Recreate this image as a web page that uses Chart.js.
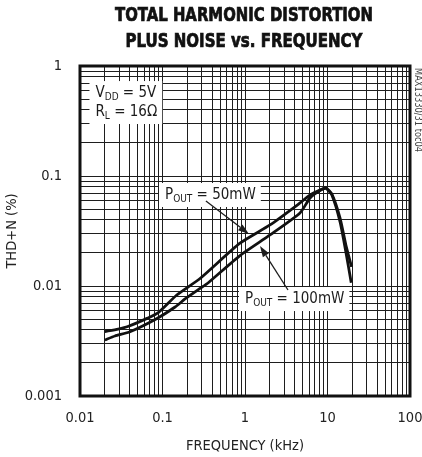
<!DOCTYPE html>
<html><head><meta charset="utf-8">
<script src="https://cdn.jsdelivr.net/npm/chart.js@4/dist/chart.umd.min.js"></script>
<style>html,body{margin:0;padding:0;background:#fff;}canvas{display:block}</style>
</head><body>
<canvas id="c" width="422" height="457"></canvas>
<script>
// ---- data ----
const freq50 = [0.02, 0.029, 0.038, 0.065, 0.088, 0.149, 0.285, 0.869, 2.01, 4.64, 6.14, 8.11, 9.59, 11.3, 14.2, 16.7, 19.6];
const thd50  = [0.00385, 0.00406, 0.00428, 0.00508, 0.00569, 0.00828, 0.0117, 0.0245, 0.0359, 0.0569, 0.0672, 0.0746, 0.0778, 0.0686, 0.0415, 0.0236, 0.0149];
const freq100 = [0.02, 0.0265, 0.0404, 0.0858, 0.142, 0.1875, 0.285, 0.356, 0.869, 2.01, 4.64, 6.14, 8.11, 9.59, 11.3, 14.2, 16.7, 19.4];
const thd100  = [0.00323, 0.00351, 0.00384, 0.00507, 0.00644, 0.00762, 0.0095, 0.01065, 0.0189, 0.0291, 0.0461, 0.0631, 0.0738, 0.0769, 0.0672, 0.0382, 0.0204, 0.0107];
const xTickLabels = ['0.01', '0.1', '1', '10', '100'];
const yTickLabels = ['0.001', '0.01', '0.1', '1'];
const seriesNames = ['P_OUT = 50mW', 'P_OUT = 100mW'];
const titleLines = ['TOTAL HARMONIC DISTORTION', 'PLUS NOISE vs. FREQUENCY'];
const xTitle = 'FREQUENCY (kHz)';
const yTitle = 'THD+N (%)';
const sideNote = 'MAX13330/31 toc04';

const COND = "'DejaVu Sans Condensed', 'Liberation Sans Narrow', sans-serif";
const INK = '#1c1c1c';

function logTicks(labels) {
  const vals = labels.map(parseFloat);
  const lo = Math.round(Math.log10(Math.min(...vals)));
  const hi = Math.round(Math.log10(Math.max(...vals)));
  const t = [];
  for (let e = lo; e < hi; e++) for (let m = 1; m < 10; m++) t.push({ value: +(m * Math.pow(10, e)).toPrecision(6) });
  t.push({ value: Math.pow(10, hi) });
  return t;
}
function labelFor(labels, v) {
  const l = labels.find(s => Math.abs(Math.log10(parseFloat(s)) - Math.log10(v)) < 1e-6);
  return l === undefined ? '' : l;
}

const toXY = (xs, ys) => xs.map((x, i) => ({ x, y: ys[i] }));

// annotation definitions (anchored in data units)
const notes = [
  { lines: [ { parts: [['V'], ['DD', 1], [' = 5V']], f: 0.0154, v: 0.522 },
             { parts: [['R'], ['L', 1], [' = 16Ω']], f: 0.0154, v: 0.351 } ] },
  { lines: [ { parts: [['P'], ['OUT', 1], [' = 50mW']], f: 0.1072, v: 0.0618 } ],
    arrow: { from: [0.336, 0.0593], to: [1.117, 0.0297] } },
  { lines: [ { parts: [['P'], ['OUT', 1], [' = 100mW']], f: 1.0, v: 0.0070 } ],
    arrow: { from: [3.32, 0.0092], to: [1.52, 0.0231] } }
];

function richWidth(ctx, parts) {
  let w = 0;
  for (const [t, sub] of parts) { ctx.font = (sub ? '10px ' : '15px ') + COND; w += ctx.measureText(t).width; }
  return w;
}
function drawRich(ctx, parts, x, y) {
  for (const [t, sub] of parts) {
    ctx.font = (sub ? '10px ' : '15px ') + COND;
    ctx.fillText(t, x, sub ? y + 3 : y);
    x += ctx.measureText(t).width;
  }
}
function arrow(ctx, x0, y0, x1, y1) {
  const a = Math.atan2(y1 - y0, x1 - x0), L = 11, W = 3.6;
  const bx = x1 - L * Math.cos(a), by = y1 - L * Math.sin(a);
  ctx.strokeStyle = INK; ctx.lineWidth = 1.3;
  ctx.beginPath(); ctx.moveTo(x0, y0); ctx.lineTo(bx, by); ctx.stroke();
  ctx.fillStyle = INK;
  ctx.beginPath(); ctx.moveTo(x1, y1);
  ctx.lineTo(bx + W * Math.sin(a), by - W * Math.cos(a));
  ctx.lineTo(bx - W * Math.sin(a), by + W * Math.cos(a));
  ctx.closePath(); ctx.fill();
}

const annotPlugin = {
  id: 'annot',
  afterDatasetsDraw(chart) {
    const ctx = chart.ctx, xs = chart.scales.x, ys = chart.scales.y;
    ctx.save();
    ctx.textBaseline = 'alphabetic'; ctx.textAlign = 'left';
    for (const n of notes) {
      const pts = n.lines.map(l => ({ x: xs.getPixelForValue(l.f), y: ys.getPixelForValue(l.v), w: richWidth(ctx, l.parts) }));
      const left = Math.min(...pts.map(p => p.x)) - 6;
      const right = Math.max(...pts.map(p => p.x + p.w)) + 5;
      const top = Math.min(...pts.map(p => p.y)) - 16;
      const bottom = Math.max(...pts.map(p => p.y)) + 8;
      ctx.fillStyle = '#fff';
      ctx.fillRect(left, top, right - left, bottom - top);
      if (n.arrow) {
        arrow(ctx, xs.getPixelForValue(n.arrow.from[0]), ys.getPixelForValue(n.arrow.from[1]),
                   xs.getPixelForValue(n.arrow.to[0]), ys.getPixelForValue(n.arrow.to[1]));
      }
      ctx.fillStyle = INK;
      n.lines.forEach((l, i) => drawRich(ctx, l.parts, pts[i].x, pts[i].y));
    }
    ctx.restore();
  },
  afterDraw(chart) {
    const ctx = chart.ctx, a = chart.chartArea;
    ctx.save();
    // frame
    ctx.strokeStyle = '#111'; ctx.lineWidth = 3;
    ctx.strokeRect(a.left, a.top, a.right - a.left, a.bottom - a.top);
    // title (condensed, heavy)
    ctx.fillStyle = '#111'; ctx.strokeStyle = '#111'; ctx.lineWidth = 0.7;
    ctx.textAlign = 'center'; ctx.textBaseline = 'alphabetic';
    ctx.font = 'bold 19px ' + COND;
    const cx = (a.left + a.right) / 2;
    const widths = [258, 237];
    titleLines.forEach((t, i) => {
      const w = ctx.measureText(t).width;
      ctx.save();
      ctx.translate(cx - 1, 21 + i * 26);
      ctx.scale(widths[i] / w, 1.05);
      ctx.fillText(t, 0, 0);
      ctx.strokeText(t, 0, 0);
      ctx.restore();
    });
    // side note
    ctx.fillStyle = '#444'; ctx.font = '10px ' + COND;
    ctx.translate(a.right + 3, a.top + 2);
    ctx.rotate(Math.PI / 2);
    ctx.textAlign = 'left'; ctx.textBaseline = 'bottom';
    const sw = ctx.measureText(sideNote).width;
    ctx.scale(84 / sw, 1);
    ctx.fillText(sideNote, 0, 0);
    ctx.restore();
  }
};

const gridOpts = { color: '#1e1e1e', lineWidth: 1, drawTicks: false };
const tickFont = { family: COND, size: 14.5 };
new Chart(document.getElementById('c'), {
  type: 'line',
  data: {
    datasets: [
      { label: seriesNames[0], data: toXY(freq50, thd50), borderColor: '#111', borderWidth: 2.8, pointRadius: 0, tension: 0.2, fill: false },
      { label: seriesNames[1], data: toXY(freq100, thd100), borderColor: '#111', borderWidth: 2.8, pointRadius: 0, tension: 0.2, fill: false }
    ]
  },
  options: {
    responsive: false, animation: false, devicePixelRatio: 1,
    layout: { padding: { top: 66, right: 12, left: 0, bottom: 0 } },
    plugins: { legend: { display: false }, tooltip: { enabled: false }, title: { display: false } },
    scales: {
      x: {
        type: 'logarithmic', min: 0.01, max: 100,
        afterBuildTicks: s => { s.ticks = logTicks(xTickLabels); },
        afterFit: s => { s.height = 61; s.paddingLeft = 0; s.paddingRight = 0; },
        grid: gridOpts, border: { display: false },
        ticks: { autoSkip: false, maxRotation: 0, padding: 14, color: '#222', font: tickFont,
                 callback: v => labelFor(xTickLabels, v) },
        title: { display: true, text: xTitle, color: '#222', font: tickFont, padding: { top: 0, bottom: 2 } }
      },
      y: {
        type: 'logarithmic', min: 0.001, max: 1,
        afterBuildTicks: s => { s.ticks = logTicks(yTickLabels); },
        afterFit: s => { s.width = 80; s.paddingTop = 0; s.paddingBottom = 0; },
        grid: gridOpts, border: { display: false },
        ticks: { autoSkip: false, padding: 18, color: '#222', font: tickFont,
                 callback: v => labelFor(yTickLabels, v) },
        title: { display: true, text: yTitle, color: '#222', font: tickFont, padding: { top: 4, bottom: 0 } }
      }
    }
  },
  plugins: [annotPlugin]
});
</script>
</body></html>
